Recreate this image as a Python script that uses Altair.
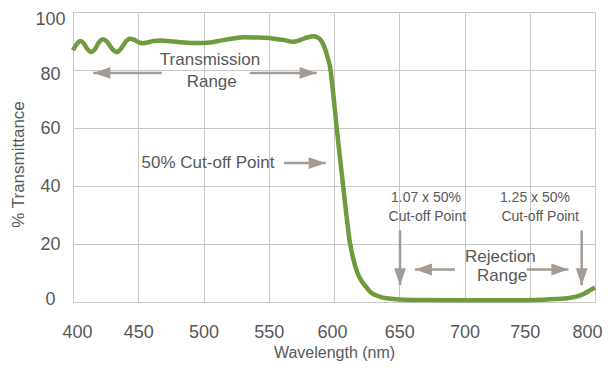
import altair as alt
import pandas as pd

# ---- curve data ----
wavelength = [400, 403, 405.5, 408, 411, 414, 417, 420, 423, 426, 430, 433.5, 437, 440.5,
              443.5, 447, 450, 453.5, 457, 462, 467, 475, 485, 495, 505, 515, 525, 530,
              540, 553, 562, 568.5, 574, 580, 584, 587.5, 590.5, 593, 595, 597, 599.5,
              602, 604.5, 607, 609.5, 612, 615, 618, 621.5, 625, 628, 632, 636, 642,
              650, 670, 700, 730, 760, 770, 780, 787, 792, 796, 800]
transmittance = [86.8, 89.0, 90.0, 89.3, 87.2, 86.2, 87.3, 89.6, 90.6, 89.8, 87.3, 86.2, 87.5, 89.8,
                 90.8, 90.4, 89.6, 89.2, 89.5, 90.0, 90.2, 89.9, 89.5, 89.3, 89.5, 90.3, 91.0, 91.3,
                 91.2, 90.9, 90.3, 89.7, 90.3, 91.3, 91.6, 91.2, 89.9, 87.5, 84.5, 81.0, 71.5,
                 60.3, 50.0, 40.0, 30.0, 21.0, 14.5, 10.0, 7.0, 5.0, 3.4, 2.3, 1.7, 1.2,
                 0.9, 0.7, 0.6, 0.6, 0.8, 1.0, 1.4, 2.0, 2.9, 4.0, 5.0]

x_ticks = [400, 450, 500, 550, 600, 650, 700, 750, 800]
y_ticks = [0, 20, 40, 60, 80, 100]

# ---- annotation arrows: tail (x, y) -> tip (x2, y2), in data units ----
arrow_x = [468.0, 535.6, 561.7, 650.6, 789.8, 692.7, 747.7]
arrow_y = [79.0, 79.0, 47.9, 24.7, 24.7, 11.2, 11.2]
arrow_x2 = [415.6, 586.7, 593.6, 650.6, 789.8, 662.0, 779.6]
arrow_y2 = [79.0, 79.0, 47.9, 5.8, 5.8, 11.2, 11.2]
arrow_angle = [180, 0, 0, 90, 90, 180, 0]

# ---- annotation texts ----
big_text = ["Transmission", "Range", "50% Cut-off Point", "Rejection", "Range"]
big_x = [505.0, 506.3, 503.5, 727.5, 728.8]
big_y = [83.6, 75.9, 47.9, 15.5, 8.9]

small_text = ["1.07 x 50%", "Cut-off Point", "1.25 x 50%", "Cut-off Point"]
small_x = [670.5, 671.5, 754.0, 758.0]
small_y = [35.8, 29.3, 35.8, 29.3]

FONT = "Liberation Sans"
TXT = "#58585a"
ARROW = "#a39b94"
GREEN = "#6e9b3e"
GRID = "#c8c8c8"

curve = pd.DataFrame({"wl": wavelength, "t": transmittance})
arrows = pd.DataFrame({"x": arrow_x, "y": arrow_y, "x2": arrow_x2, "y2": arrow_y2, "ang": arrow_angle})
big = pd.DataFrame({"x": big_x, "y": big_y, "txt": big_text})
small = pd.DataFrame({"x": small_x, "y": small_y, "txt": small_text})

xscale = alt.Scale(domain=[400, 800], nice=False, zero=False)
yscale = alt.Scale(domain=[0, 100], nice=False)

x_label_offset = {"condition": [
    {"test": "datum.value == 400", "value": 4},
    {"test": "datum.value == 600", "value": -2},
    {"test": "datum.value == 750", "value": -5},
    {"test": "datum.value == 800", "value": -8},
], "value": 0}
y_label_offset = {"condition": [
    {"test": "datum.value == 100", "value": 7},
    {"test": "datum.value == 80", "value": 4},
    {"test": "datum.value == 0", "value": -3},
], "value": 0}

line = alt.Chart(curve).mark_line(color=GREEN, strokeWidth=4.5, interpolate="monotone").encode(
    x=alt.X("wl:Q", scale=xscale,
            axis=alt.Axis(values=x_ticks, title="Wavelength (nm)", grid=True, gridColor=GRID,
                          gridWidth=1, domain=False, ticks=False, labelPadding=21,
                          labelFontSize=18, labelColor=TXT, labelFont=FONT,
                          labelOffset=x_label_offset,
                          titleFont=FONT, titleFontSize=16, titleColor=TXT,
                          titleFontWeight="normal", titleY=50, titleBaseline="middle",
                          labelFlush=False, labelOverlap=False)),
    y=alt.Y("t:Q", scale=yscale,
            axis=alt.Axis(values=y_ticks, title="% Transmittance", grid=True, gridColor=GRID,
                          gridWidth=1, domain=False, ticks=False, labelPadding=23,
                          labelAlign="center", labelFontSize=18, labelColor=TXT,
                          labelOffset=y_label_offset,
                          labelFont=FONT, titleFont=FONT, titleFontSize=17, titleColor=TXT,
                          titleFontWeight="normal", titleX=-55, titleY=152,
                          titleBaseline="middle", titleAlign="center", titleAngle=270,
                          labelFlush=False, labelOverlap=False)),
)

rules = alt.Chart(arrows).mark_rule(color=ARROW, strokeWidth=2.5).encode(
    x="x:Q", y="y:Q", x2="x2:Q", y2="y2:Q")

heads = alt.Chart(arrows).mark_point(
    shape="M 0 0 L -2 -0.7 L -2 0.7 Z", filled=True, color=ARROW, opacity=1, size=289, strokeWidth=0
).encode(x="x2:Q", y="y2:Q", angle=alt.Angle("ang:Q", scale=None))

big_t = alt.Chart(big).mark_text(font=FONT, fontSize=17, color=TXT, align="center",
                                 baseline="middle").encode(x="x:Q", y="y:Q", text="txt:N")
small_t = alt.Chart(small).mark_text(font=FONT, fontSize=14, color=TXT, align="center",
                                     baseline="middle").encode(x="x:Q", y="y:Q", text="txt:N")

chart = alt.layer(line, rules, heads, big_t, small_t).properties(
    width=522, height=290,
    padding={"left": 65, "top": 4, "right": 8, "bottom": 59},
    autosize=alt.AutoSizeParams(type="none"),
).configure_view(stroke=GRID, strokeWidth=1.5).configure(background="white")

chart.save("out.html", embed_options={"renderer": "svg", "actions": False})
